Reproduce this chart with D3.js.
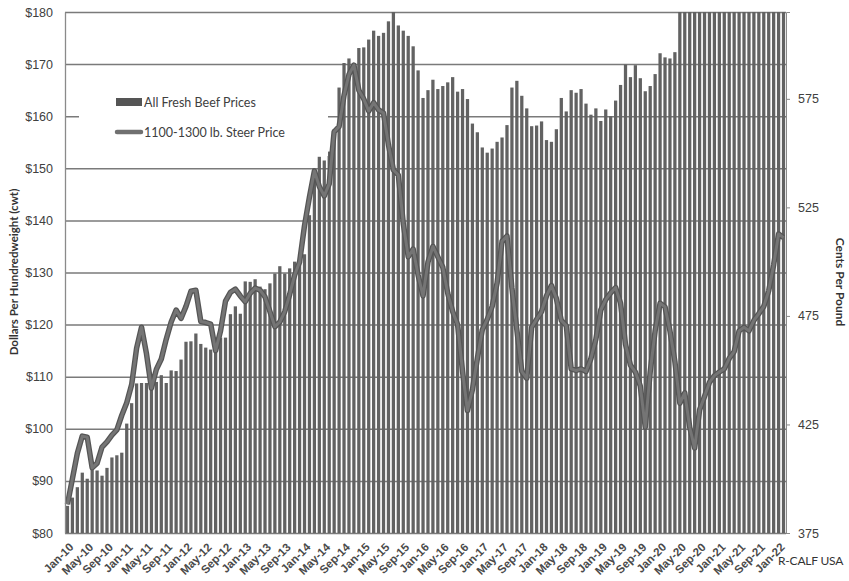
<!DOCTYPE html>
<html>
<head>
<meta charset="utf-8">
<script src="https://cdn.jsdelivr.net/npm/d3@7"></script>
<style>
  body { margin: 0; background: #fff; }
  svg { font-family: Lato, "Liberation Sans", sans-serif; }
</style>
</head>
<body>
<div class="chart"></div>
<script>
//----Data----
const monthNames = ["Jan","Feb","Mar","Apr","May","Jun","Jul","Aug","Sep","Oct","Nov","Dec"]
const yearNames = ["10","11","12","13","14","15","16","17","18","19","20","21","22"]
const nMonths = 146   // Jan-10 .. Feb-22

// All fresh beef retail price, cents per pound (right axis)
const beefCents = [
  387.5, 391.3, 396.1, 402.8, 400.0, 404.0, 403.8, 401.4, 405.0, 409.8, 410.8, 412.0,
  425.4, 434.8, 443.9, 444.1, 444.1, 443.4, 444.6, 447.7, 444.1, 449.9, 449.6, 454.9,
  463.1, 463.3, 466.9, 462.1, 460.4, 459.5, 460.4, 465.0, 465.0, 475.8, 479.4, 476.0,
  490.9, 490.7, 491.9, 488.5, 487.3, 490.0, 494.5, 497.9, 494.5, 496.9, 500.0, 500.3,
  503.4, 521.4, 541.3, 548.3, 546.6, 550.7, 561.0, 580.2, 591.5, 593.6, 591.5, 598.4,
  598.7, 602.3, 606.4, 604.0, 605.4, 610.7, 615.5, 608.8, 606.4, 604.0, 599.2, 588.1,
  575.4, 579.0, 583.8, 579.5, 580.9, 582.6, 585.0, 578.3, 579.5, 574.9, 563.6, 559.6,
  552.6, 550.2, 552.1, 555.2, 557.2, 562.9, 580.2, 583.3, 576.4, 570.6, 562.4, 562.7,
  564.6, 556.0, 555.2, 561.0, 575.4, 569.2, 579.0, 577.8, 579.5, 572.8, 567.7, 570.6,
  564.8, 570.1, 567.0, 574.2, 581.4, 590.8, 585.0, 590.5, 584.5, 578.5, 580.9, 586.4,
  596.0, 594.1, 593.6, 596.5, 661.0, 739.0, 689.0, 658.0, 652.0, 646.0, 640.0, 642.0,
  645.0, 650.0, 656.0, 665.0, 679.0, 704.0, 726.0, 736.0, 741.0, 744.0, 750.0, 757.0,
  762.0, 767.0
]

// 1100-1300 lb. steer price, dollars per cwt (left axis)
const steerDollars = [
  85.5, 90.4, 95.3, 98.6, 98.4, 92.5, 93.4, 96.5, 97.5, 98.8, 99.8, 102.6,
  105.0, 108.5, 115.5, 119.5, 114.4, 107.8, 111.4, 113.4, 117.2, 120.5, 122.8, 121.2,
  123.5, 126.4, 126.6, 120.6, 120.4, 120.1, 115.0, 118.8, 124.5, 126.2, 126.8, 125.5,
  124.4, 126.0, 127.0, 126.6, 125.3, 122.5, 119.6, 120.5, 122.5, 125.8, 129.5, 132.0,
  139.0, 144.5, 149.5, 146.5, 144.7, 147.0, 157.0, 158.0, 164.0, 168.0, 169.8, 165.0,
  163.3, 161.0, 162.6, 161.2, 160.6, 154.5, 149.7, 148.7, 139.4, 133.0, 134.5, 129.5,
  125.5, 132.0, 135.0, 133.0, 131.0, 126.0, 122.5, 120.0, 111.0, 103.5, 107.5, 113.5,
  119.0, 121.0, 123.5, 128.0, 136.0, 137.0, 127.0, 119.0, 111.0, 109.7, 119.5, 121.0,
  122.5, 125.5, 127.5, 125.0, 120.8, 119.8, 111.5, 111.2, 111.5, 111.0, 113.5, 117.2,
  122.8, 124.8, 126.1, 127.1, 124.1, 116.2, 112.2, 110.9, 108.2, 100.3, 110.9, 118.8,
  124.1, 123.4, 118.8, 112.9, 104.9, 106.9, 100.3, 96.3, 103.6, 106.2, 108.9, 110.2,
  110.9, 111.5, 113.5, 114.8, 118.8, 119.5, 118.8, 120.8, 122.1, 123.5, 126.5, 131.5,
  137.4, 136.7
]

const leftTicks = [80, 90, 100, 110, 120, 130, 140, 150, 160, 170, 180]
const rightTicks = [375, 425, 475, 525, 575]
const tickMonths = ["Jan", "May", "Sep"]

const categories = []
yearNames.forEach(y => monthNames.forEach(m => categories.push(m + "-" + y)))
categories.length = nMonths
const xTicks = categories.filter(c => tickMonths.includes(c.slice(0, 3)))

//----Chart Initialization----
const margin = ({top: 12, right: 63, bottom: 48, left: 65})
const width = 849 - margin.left - margin.right,
      height = 581 - margin.top - margin.bottom;

const svg = d3.select(".chart").append("svg")
    .attr("width", 849)
    .attr("height", 581)
  .append("g")
    .attr("transform", "translate(" + margin.left + "," + margin.top + ")");

const xScale = d3.scaleBand()
    .domain(categories)
    .range([0, width])
    .paddingInner(0.34)
    .paddingOuter(0.17)

const yLeft = d3.scaleLinear().domain([80, 180]).range([height, 0])
const yRight = d3.scaleLinear().domain([375, 615]).range([height, 0])

svg.append("clipPath").attr("id", "plot-clip")
  .append("rect").attr("width", width).attr("height", height)

// gridlines
svg.append("g")
    .attr("class", "grid")
    .call(d3.axisLeft(yLeft).tickValues(leftTicks).tickSize(-width).tickFormat(""))
    .call(g => g.select(".domain").remove())
    .selectAll("line").attr("stroke", "#7a7a7a").attr("stroke-width", 1.5)

// bars
svg.append("g")
    .attr("clip-path", "url(#plot-clip)")
  .selectAll(".bar")
  .data(beefCents)
  .enter().append("rect")
    .attr("class", "bar")
    .attr("x", (d, i) => xScale(categories[i]))
    .attr("y", d => yRight(d))
    .attr("width", xScale.bandwidth())
    .attr("height", d => height - yRight(d))
    .attr("fill", "#626262")

// legend box (white, hides the gridline behind it)
const legend = svg.append("g").attr("transform", "translate(14, 62)")
legend.append("rect").attr("width", 249).attr("height", 82).attr("fill", "#fff")
legend.append("rect").attr("x", 37).attr("y", 24).attr("width", 26).attr("height", 8)
    .attr("fill", "#555")
legend.append("text").attr("x", 65).attr("y", 33).text("All Fresh Beef Prices")
    .attr("font-size", 12.5).attr("fill", "#404040")
legend.append("line").attr("x1", 38).attr("x2", 62).attr("y1", 58).attr("y2", 58)
    .attr("stroke", "#707070").attr("stroke-width", 4.5).attr("stroke-linecap", "round")
legend.append("text").attr("x", 65).attr("y", 63).text("1100-1300 lb. Steer Price")
    .attr("font-size", 12.5).attr("fill", "#404040")

// steer price line
const line = d3.line()
    .x((d, i) => xScale(categories[i]) + xScale.bandwidth() / 2)
    .y(d => yLeft(d))

svg.append("path").datum(steerDollars)
    .attr("d", line).attr("fill", "none")
    .attr("stroke", "#555").attr("stroke-width", 5.5).attr("stroke-linejoin", "round")
svg.append("path").datum(steerDollars)
    .attr("d", line).attr("fill", "none")
    .attr("stroke", "#757575").attr("stroke-width", 3).attr("stroke-linejoin", "round")

// axes
svg.append("g")
    .attr("class", "axis y-axis")
    .call(d3.axisLeft(yLeft).tickValues(leftTicks).tickSize(0).tickPadding(12).tickFormat(d => "$" + d))
    .call(g => g.select(".domain").attr("stroke", "#8a8a8a").attr("stroke-width", 1.3))
    .selectAll("text").attr("font-size", 12.5).attr("fill", "#404040")

svg.append("g")
    .attr("class", "axis y2-axis")
    .attr("transform", `translate(${width}, 0)`)
    .call(d3.axisRight(yRight).tickValues(rightTicks).tickSize(4).tickPadding(8))
    .call(g => g.select(".domain").attr("stroke", "#8a8a8a"))
    .call(g => g.selectAll("line").attr("stroke", "#8a8a8a"))
    .selectAll("text").attr("font-size", 12.5).attr("fill", "#404040")

svg.append("g")
    .attr("class", "axis x-axis")
    .attr("transform", `translate(0, ${height})`)
    .call(d3.axisBottom(xScale).tickValues(xTicks).tickSize(0).tickPadding(0))
    .call(g => g.select(".domain").remove())
    .selectAll("text")
    .attr("font-size", 11.5)
    .attr("font-weight", "bold")
    .attr("fill", "#4a4a4a")
    .attr("text-anchor", "end")
    .attr("transform", "translate(4, 12) rotate(-45)")
    .attr("dy", ".35em")

// axis titles
svg.append("text")
    .attr("class", "y label")
    .attr("text-anchor", "middle")
    .attr("transform", `translate(-47, 260) rotate(-90)`)
    .attr("font-size", 11.5)
    .attr("font-weight", "bold")
    .attr("fill", "#333")
    .text("Dollars Per Hundredweight (cwt)")

svg.append("text")
    .attr("text-anchor", "middle")
    .attr("transform", `translate(${width + 50}, 270) rotate(90)`)
    .attr("font-size", 12)
    .attr("font-weight", "bold")
    .attr("fill", "#333")
    .text("Cents Per Pound")

svg.append("text")
    .attr("x", width - 8)
    .attr("y", height + 32)
    .attr("font-size", 12)
    .attr("letter-spacing", -0.2)
    .attr("fill", "#333")
    .text("R-CALF USA")
</script>
</body>
</html>
